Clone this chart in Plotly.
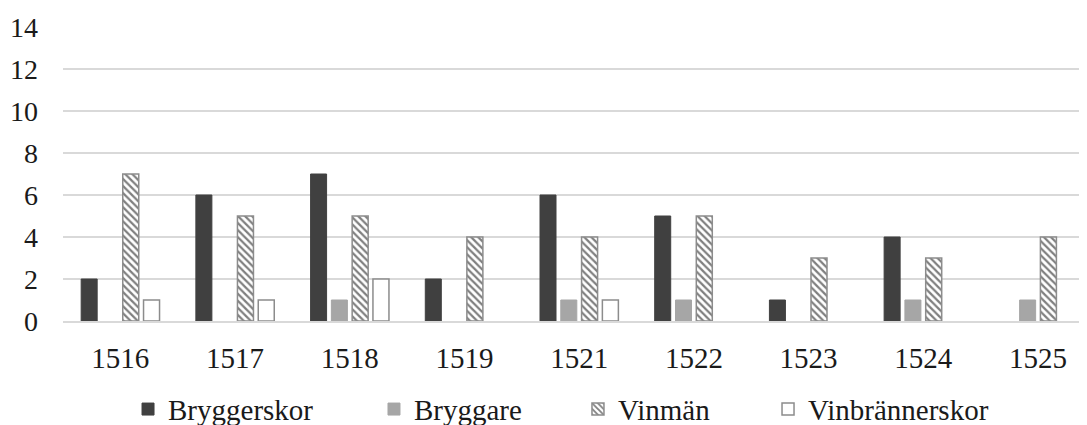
import plotly.graph_objects as go

years = ["1516", "1517", "1518", "1519", "1521", "1522", "1523", "1524", "1525"]
bryggerskor = [2, 6, 7, 2, 6, 5, 1, 4, 0]
bryggare = [0, 0, 1, 0, 1, 1, 0, 1, 1]
vinman = [7, 5, 5, 4, 4, 5, 3, 3, 4]
vinbrannerskor = [1, 1, 2, 0, 1, 0, 0, 0, 0]


def nz(vals):
    return [v if v else None for v in vals]


FONT = "Liberation Serif, Times New Roman, serif"
TXT = "#1a1a1a"

fig = go.Figure()
fig.add_bar(name="Bryggerskor", x=years, y=nz(bryggerskor), legend="legend",
            marker=dict(color="#404040", line=dict(color="#404040", width=1)))
fig.add_bar(name="Bryggare", x=years, y=nz(bryggare), legend="legend2",
            marker=dict(color="#a6a6a6", line=dict(color="#a6a6a6", width=1)))
fig.add_bar(name="Vinmän", x=years, y=nz(vinman), legend="legend3",
            marker=dict(color="white", line=dict(color="#8c8c8c", width=1.5),
                        pattern=dict(shape="\\", fgcolor="#7f7f7f", bgcolor="white",
                                     size=5, solidity=0.45, fillmode="replace")))
fig.add_bar(name="Vinbrännerskor", x=years, y=nz(vinbrannerskor), legend="legend4",
            marker=dict(color="white", line=dict(color="#8c8c8c", width=1.5)))

leg_common = dict(orientation="h", y=-0.30, yanchor="middle", xanchor="left",
                  font=dict(family=FONT, size=29, color=TXT), bgcolor="rgba(0,0,0,0)",
                  itemwidth=30)

fig.update_layout(
    width=1087, height=425,
    margin=dict(l=55, r=8, t=19, b=112, autoexpand=False),
    paper_bgcolor="white", plot_bgcolor="white",
    showlegend=True,
    barmode="group", bargap=0.275, bargroupgap=0.23,
    font=dict(family=FONT, size=29, color=TXT),
    xaxis=dict(type="category", range=[-0.5, 8.427], showgrid=False, showline=True,
               linecolor="#d9d9d9", linewidth=1.5, ticks="", ticklabelstandoff=10,
               automargin=False, tickfont=dict(family=FONT, size=29, color=TXT)),
    yaxis=dict(range=[0, 14], dtick=2, showgrid=True, gridcolor="#d9d9d9", gridwidth=1.5,
               zeroline=False, showline=False, ticks="", ticklabelstandoff=24,
               automargin=False, tickfont=dict(family=FONT, size=28, color=TXT)),
    legend=dict(leg_common, x=0.0635),
    legend2=dict(leg_common, x=0.3037),
    legend3=dict(leg_common, x=0.5029),
    legend4=dict(leg_common, x=0.6885),
)

fig.write_html("out.html")
